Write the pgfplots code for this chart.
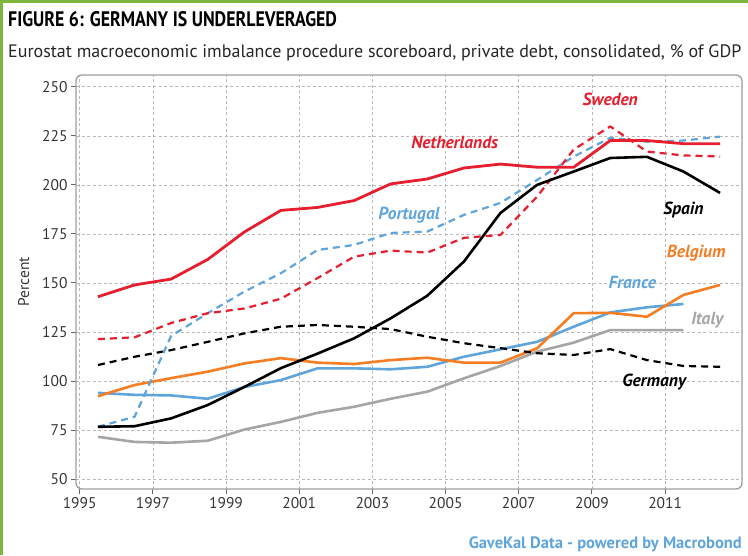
\documentclass[border=0pt]{standalone}
\usepackage{pgfplots}
\pgfplotsset{compat=1.18}
\usepackage{pgfplotstable}
\usepackage{fontspec}
\setmainfont{PT Sans}
\definecolor{gkred}{RGB}{230,30,45}
\definecolor{gkblue}{RGB}{95,165,220}
\definecolor{gkorange}{RGB}{245,125,35}
\definecolor{gkgray}{RGB}{165,165,165}
\definecolor{gkgreen}{RGB}{125,180,60}
\definecolor{gkfoot}{RGB}{95,165,220}
\definecolor{ticktxt}{RGB}{55,55,55}

\pgfplotstableread{
x y
1995.5 143
1996.5 149
1997.5 152
1998.5 162
1999.5 176
2000.5 187
2001.5 188.5
2002.5 192
2003.5 200.5
2004.5 203
2005.5 208.6
2006.5 210.6
2007.5 209
2008.5 209
2009.5 222.6
2010.5 222.6
2011.5 221
2012.5 221
}\netherlands

\pgfplotstableread{
x y
1995.5 121.4
1996.5 122.3
1997.5 129.6
1998.5 134.6
1999.5 137
2000.5 142
2001.5 152.5
2002.5 163.4
2003.5 166.5
2004.5 165.5
2005.5 173
2006.5 174.5
2007.5 194
2008.5 218
2009.5 229.8
2010.5 217
2011.5 215
2012.5 214.5
}\sweden

\pgfplotstableread{
x y
1995.5 76.7
1996.5 81.8
1997.5 123
1998.5 134.6
1999.5 145.6
2000.5 155
2001.5 166.8
2002.5 169.4
2003.5 175.5
2004.5 176.2
2005.5 184.7
2006.5 190.8
2007.5 202.5
2008.5 214.4
2009.5 224
2010.5 222
2011.5 222.6
2012.5 224.6
}\portugal

\pgfplotstableread{
x y
1995.5 76.7
1996.5 77
1997.5 81
1998.5 87.8
1999.5 97
2000.5 106.6
2001.5 114
2002.5 121.8
2003.5 132
2004.5 143.5
2005.5 160.9
2006.5 185.7
2007.5 200
2008.5 206.8
2009.5 213.7
2010.5 214.3
2011.5 206.8
2012.5 195.9
}\spain

\pgfplotstableread{
x y
1995.5 108.2
1996.5 112.4
1997.5 115.8
1998.5 120
1999.5 124.3
2000.5 127.7
2001.5 128.6
2002.5 127.7
2003.5 126.5
2004.5 122.6
2005.5 119.3
2006.5 116.8
2007.5 114.2
2008.5 113.3
2009.5 116.3
2010.5 110.7
2011.5 107.7
2012.5 107.3
}\germany

\pgfplotstableread{
x y
1995.5 92.3
1996.5 98
1997.5 101.5
1998.5 104.8
1999.5 109
2000.5 111.7
2001.5 109.4
2002.5 108.7
2003.5 110.7
2004.5 111.9
2005.5 109.4
2006.5 109.4
2007.5 116.7
2008.5 134.6
2009.5 134.8
2010.5 132.8
2011.5 143.9
2012.5 149
}\belgium

\pgfplotstableread{
x y
1995.5 94
1996.5 93
1997.5 92.7
1998.5 91
1999.5 97
2000.5 100.5
2001.5 106.5
2002.5 106.5
2003.5 106
2004.5 107.3
2005.5 112.4
2006.5 116.2
2007.5 120
2008.5 127.7
2009.5 135
2010.5 137.6
2011.5 139.3
}\france

\pgfplotstableread{
x y
1995.5 71.6
1996.5 69
1997.5 68.6
1998.5 69.6
1999.5 75.3
2000.5 79.2
2001.5 83.8
2002.5 86.9
2003.5 91
2004.5 94.6
2005.5 101.4
2006.5 107.7
2007.5 115
2008.5 119.6
2009.5 126
2010.5 126
2011.5 126
}\italy

\begin{document}
\begin{tikzpicture}
\path[use as bounding box] (0pt,0pt) rectangle (748pt,-555pt);
\fill[white] (0pt,0pt) rectangle (748pt,-555pt);
\draw[gkgreen, line width=3pt] (1.5pt,-555pt) -- (1.5pt,-1.5pt) -- (748pt,-1.5pt);
\node[anchor=base west, inner sep=0pt, font=\fontsize{21}{23}\selectfont\bfseries] at (8pt,-26pt) {\scalebox{0.85}[1]{FIGURE 6: GERMANY IS UNDERLEVERAGED}};
\node[anchor=base west, inner sep=0pt, font=\fontsize{18}{20}\selectfont, text=black!85] at (8pt,-57pt) {Eurostat macroeconomic imbalance procedure scoreboard, private debt, consolidated, \% of GDP};
\node[anchor=base east, inner sep=0pt, font=\fontsize{16.5}{18}\selectfont\bfseries, text=gkfoot] at (742pt,-548pt) {GaveKal Data - powered by Macrobond};
\begin{axis}[
  at={(76pt,-489pt)}, anchor=south west,
  scale only axis, width=666pt, height=414pt,
  xmin=1994.9, xmax=2013.1, ymin=45, ymax=256,
  xtick={1995,1997,...,2011}, ytick={50,75,...,250},
  xticklabel style={/pgf/number format/1000 sep={}},
  /pgf/number format/assume math mode=true,
  tick label style={font=\fontsize{15.5}{17}\selectfont, text=ticktxt},
  grid=major,
  major grid style={gray!55, dashed, dash pattern=on 3pt off 2.5pt, line width=0.6pt},
  axis line style={draw=none},
  tick align=outside, xtick pos=bottom, ytick pos=left,
  major tick length=5pt,
  tick style={gray!80!black, line width=1pt},
  ylabel={Percent}, ylabel style={font=\fontsize{15.5}{17}\selectfont, text=ticktxt, yshift=6pt},
  clip=false,
  line join=round,
]
\draw[gray!75, line width=1.3pt, rounded corners=6pt] (rel axis cs:0,0) rectangle (rel axis cs:1,1);
\addplot[gkgray, line width=2.6pt] table {\italy};
\addplot[gkblue, line width=2.6pt] table {\france};
\addplot[gkorange, line width=2.6pt] table {\belgium};
\addplot[black, line width=2.2pt, dash pattern=on 7pt off 5pt] table {\germany};
\addplot[gkblue, line width=2.2pt, dash pattern=on 7pt off 5pt] table {\portugal};
\addplot[gkred, line width=2.2pt, dash pattern=on 7pt off 5pt] table {\sweden};
\addplot[black, line width=2.6pt] table {\spain};
\addplot[gkred, line width=2.8pt] table {\netherlands};
\tikzset{lbl/.style={font=\fontsize{17.5}{19}\selectfont\bfseries\itshape, inner sep=0pt}}
\node[lbl, text=gkred] at (axis cs:2009.5,243.5) {Sweden};
\node[lbl, text=gkred] at (axis cs:2005.25,221.5) {Netherlands};
\node[lbl, text=gkblue] at (axis cs:2004.0,184.5) {Portugal};
\node[lbl, text=black] at (axis cs:2011.5,187) {Spain};
\node[lbl, text=gkorange] at (axis cs:2011.85,165) {Belgium};
\node[lbl, text=gkblue] at (axis cs:2010.1,150) {France};
\node[lbl, text=gkgray] at (axis cs:2012.15,131) {Italy};
\node[lbl, text=black] at (axis cs:2010.7,99.5) {Germany};
\end{axis}
\end{tikzpicture}
\end{document}
